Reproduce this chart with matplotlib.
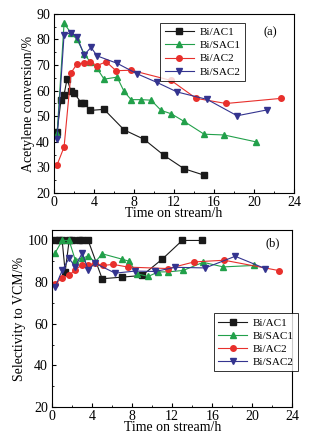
import matplotlib.pyplot as plt
from matplotlib.ticker import MultipleLocator

plt.rcParams['font.family'] = ['Liberation Serif', 'DejaVu Serif']

labels = ['Bi/AC1', 'Bi/SAC1', 'Bi/AC2', 'Bi/SAC2']
colors = ['#1a1a1a', '#22a04a', '#e8302c', '#34348f']
markers = ['s', '^', 'o', 'v']

# (a) acetylene conversion
t_ac1 = [0.3, 0.7, 1.0, 1.3, 1.7, 2.0, 2.7, 3.0, 3.6, 5.0, 7.0, 9.0, 11.0, 13.0, 15.0]
c_ac1 = [44, 56.5, 58.5, 64.5, 59.7, 59.2, 55.3, 55.3, 52.3, 52.7, 44.7, 41, 34.7, 29.5, 27]
t_sac1 = [0.3, 1.0, 1.7, 2.3, 3.0, 3.6, 4.3, 5.0, 6.3, 7.0, 7.7, 8.7, 9.7, 10.7, 11.7, 13.0, 15.0, 17.0, 20.2]
c_sac1 = [43, 86.3, 82.5, 80, 74.5, 71.3, 68.7, 64.5, 65.3, 59.7, 56.5, 56.5, 56.3, 52.3, 51, 48, 43, 42.7, 40]
t_ac2 = [0.3, 1.0, 1.7, 2.3, 3.0, 3.6, 4.3, 5.2, 6.2, 7.7, 11.7, 14.2, 17.2, 22.7]
c_ac2 = [31, 38, 67, 70.5, 70.8, 71.3, 69.8, 71.3, 67.8, 68, 64, 57, 55, 57]
t_sac2 = [0.3, 1.0, 1.7, 2.3, 3.0, 3.7, 4.3, 6.3, 8.3, 10.3, 12.3, 15.3, 18.3, 21.3]
c_sac2 = [41, 81.8, 82.7, 81, 74, 76.9, 73.6, 70.7, 66.6, 63.2, 59.5, 56.6, 50.2, 52.5]

# (b) selectivity to VCM
s_t_ac1 = [0.3, 0.7, 1.0, 1.3, 1.7, 2.0, 2.7, 3.0, 3.6, 5.0, 7.0, 9.0, 11.0, 13.0, 15.0]
s_ac1 = [100, 100, 100, 85, 100, 100, 100, 100, 100, 81.6, 82.4, 83.2, 91, 100, 100]
s_t_sac1 = [0.3, 1.0, 1.7, 2.3, 3.0, 3.6, 4.3, 5.0, 7.0, 7.7, 8.5, 9.6, 10.6, 11.6, 13.1, 15.1, 17.1, 20.2]
s_sac1 = [94, 100, 100, 90.7, 91.5, 92.5, 89.6, 93.6, 91, 90, 84, 82.7, 84.9, 84.9, 85.6, 89.5, 87.3, 88]
s_t_ac2 = [0.3, 1.0, 1.7, 2.3, 3.0, 3.6, 4.3, 5.1, 6.1, 7.6, 11.6, 14.2, 17.2, 22.7]
s_ac2 = [79.2, 82, 83.2, 86, 88.3, 88.3, 89, 88, 88.5, 87.2, 86.5, 89.7, 90.5, 85.5]
s_t_sac2 = [0.3, 1.0, 1.7, 2.3, 3.0, 3.6, 4.3, 6.3, 8.3, 10.3, 12.3, 15.3, 18.3, 21.3]
s_sac2 = [77.6, 85.6, 91.5, 87.2, 94, 86, 89, 84.3, 85.3, 85.1, 87.1, 86.8, 92.4, 86.5]

fig = plt.figure(figsize=(3.18, 4.48), dpi=100)
ax1 = fig.add_axes([0.170, 0.569, 0.755, 0.400])
ax2 = fig.add_axes([0.164, 0.0915, 0.755, 0.395])

top = [(t_ac1, c_ac1), (t_sac1, c_sac1), (t_ac2, c_ac2), (t_sac2, c_sac2)]
bot = [(s_t_ac1, s_ac1), (s_t_sac1, s_sac1), (s_t_ac2, s_ac2), (s_t_sac2, s_sac2)]

for i in range(4):
    ax1.plot(top[i][0], top[i][1], color=colors[i], marker=markers[i], ms=4,
             lw=0.8, label=labels[i])
    ax2.plot(bot[i][0], bot[i][1], color=colors[i], marker=markers[i], ms=4,
             lw=0.8, label=labels[i])

for ax in (ax1, ax2):
    ax.set_xlim(0, 24)
    ax.xaxis.set_major_locator(MultipleLocator(4))
    ax.xaxis.set_minor_locator(MultipleLocator(2))
    ax.tick_params(direction='in', which='both', labelsize=10)
    ax.tick_params(axis='x', pad=2)
    ax.tick_params(axis='y', pad=3)
    ax.tick_params(which='major', length=3)
    ax.tick_params(which='minor', length=1.5)
    ax.set_xlabel('Time on stream/h', fontsize=10, labelpad=-1)
    for s in ax.spines.values():
        s.set_linewidth(0.8)

ax1.set_ylim(20, 90)
ax1.yaxis.set_major_locator(MultipleLocator(10))
ax1.yaxis.set_minor_locator(MultipleLocator(5))
ax1.set_ylabel('Acetylene conversion/%', fontsize=10, labelpad=1)
ax1.text(0.93, 0.93, '(a)', transform=ax1.transAxes, ha='right', va='top', fontsize=9)
ax1.legend(loc='upper left', bbox_to_anchor=(0.42, 0.98), fontsize=8, frameon=True,
           fancybox=False, edgecolor='black', handlelength=2.6, labelspacing=0.3,
           borderpad=0.4, handletextpad=0.5).get_frame().set_linewidth(0.7)

ax2.set_ylim(20, 105)
ax2.yaxis.set_major_locator(MultipleLocator(20))
ax2.yaxis.set_minor_locator(MultipleLocator(10))
ax2.set_ylabel('Selectivity to VCM/%', fontsize=10, labelpad=1)
ax2.text(0.95, 0.96, '(b)', transform=ax2.transAxes, ha='right', va='top', fontsize=9)
ax2.legend(loc='upper left', bbox_to_anchor=(0.65, 0.56), fontsize=8, frameon=True,
           fancybox=False, edgecolor='black', handlelength=2.6, labelspacing=0.3,
           borderpad=0.4, handletextpad=0.5).get_frame().set_linewidth(0.7)

fig.savefig('out.png', dpi=100)
